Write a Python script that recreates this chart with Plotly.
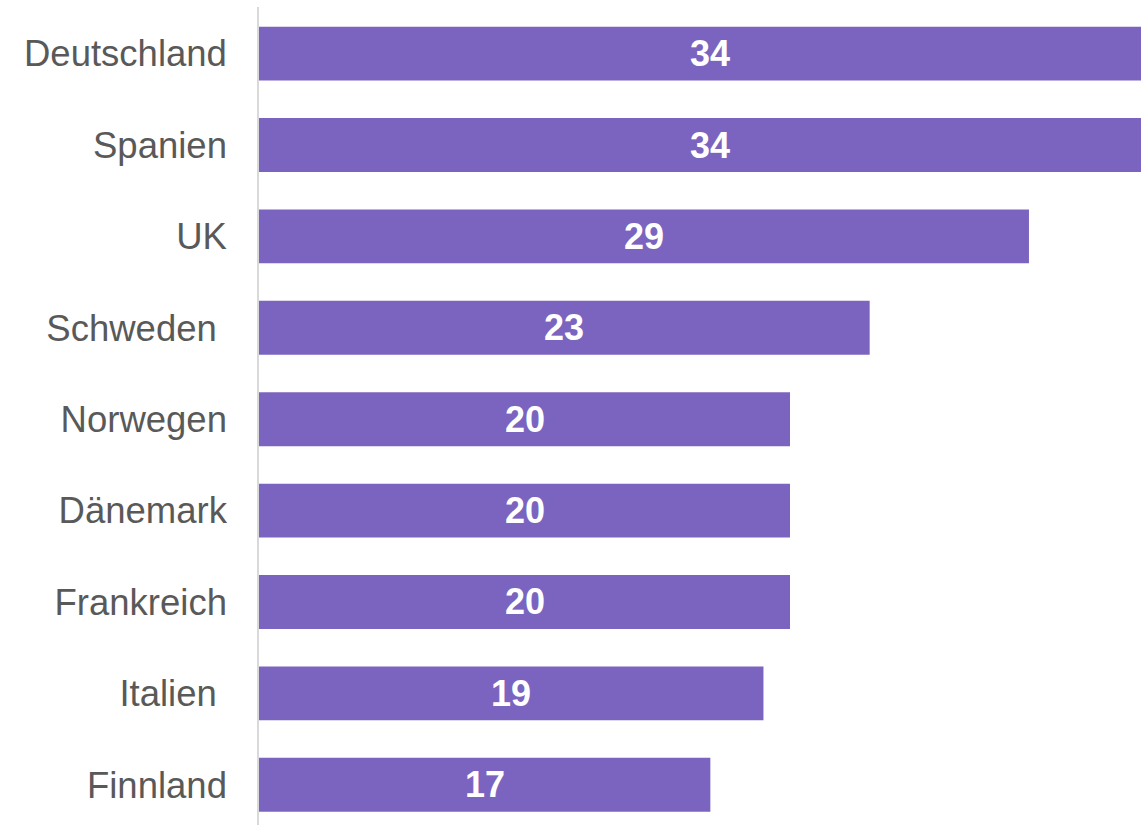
import plotly.graph_objects as go

categories = ["Deutschland", "Spanien", "UK", "Schweden\u00a0", "Norwegen",
              "Dänemark", "Frankreich", "Italien\u00a0", "Finnland"]
values = [34, 34, 29, 23, 20, 20, 20, 19, 17]
labels = [str(v) for v in values]

BAR_COLOR = "#7B64BF"

fig = go.Figure(go.Bar(
    x=values, y=categories, orientation="h",
    marker=dict(color=BAR_COLOR, line=dict(width=0)),
    width=0.59, hoverinfo="skip",
))

for v, c, t in zip(values, categories, labels):
    fig.add_annotation(x=v / 2, y=c, text="<b>" + t + "</b>", showarrow=False,
                       font=dict(family="Liberation Sans, Arial, sans-serif", size=36, color="white"),
                       xanchor="center", yanchor="middle")

fig.update_layout(
    width=1141, height=825,
    margin=dict(l=259, r=0, t=7, b=0),
    paper_bgcolor="white", plot_bgcolor="white",
    showlegend=False,
    xaxis=dict(range=[0, 33.22], visible=False, showgrid=False, zeroline=False),
    yaxis=dict(type="category", categoryorder="array", categoryarray=categories,
               range=[8.44, -0.51], showgrid=False, zeroline=False,
               showline=True, linecolor="#D9D9D9", linewidth=1.5,
               ticks="", ticklabelstandoff=23,
               tickfont=dict(family="Liberation Sans, Arial, sans-serif", size=36.5, color="#595959")),
)

fig.write_html("out.html", config={"displayModeBar": False},
               post_script="document.body.style.margin='0';document.body.style.overflow='hidden';")
